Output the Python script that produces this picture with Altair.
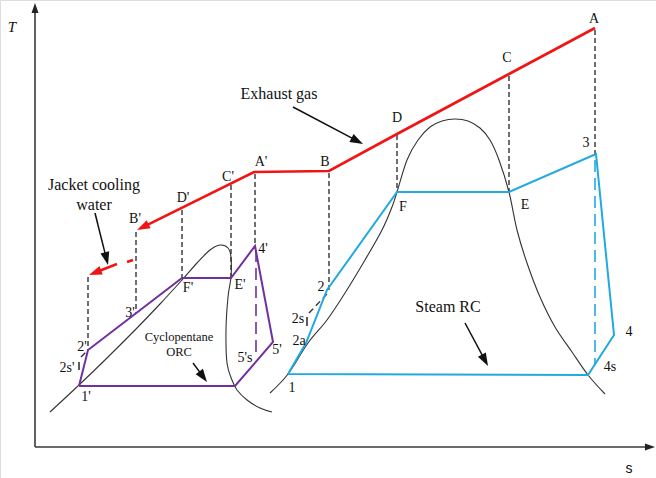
import altair as alt
import numpy as np
import pandas as pd

W, H = 656, 478
SERIF = "Liberation Serif"
RED, BLUE, PURPLE, INK = "#F01414", "#22A9E0", "#7030A0", "#333333"

# ---- exhaust gas cooling line: A -> C -> D -> B -> A' -> B'
gas_s = [595, 509, 397, 329, 254, 137]
gas_T = [450, 404, 344, 307, 306, 248]

# jacket cooling water continuation (short dash, then arrow)
jw_dash_s = [133, 127]
jw_dash_T = [218, 216]
jw_s = [117, 89]
jw_T = [214, 203]

# steam Rankine cycle: 1, 2a, 2, F, E, 3, 4, 4s, 1
rc_s = [288, 306, 327, 397, 509, 596, 614, 588, 288]
rc_T = [104, 135, 188, 286, 286, 324, 143, 103, 104]

# cyclopentane ORC: 1', 2', F', E', 4', 5', condenser inlet, 1'
orc_s = [79, 88, 182, 231, 255, 273, 235, 79]
orc_T = [92, 128, 200, 200, 232, 136, 92, 92]

# water saturation dome
wdome_s = [270, 288, 308, 327, 345, 365, 382, 392, 397, 407, 418, 430, 442, 455,
           468, 480, 490, 499, 509, 517, 527, 540, 555, 572, 588, 605]
wdome_T = [85, 104, 135, 158, 185, 218, 248, 271, 286, 318, 338, 351, 357, 359,
           357, 350, 338, 318, 286, 248, 215, 181, 151, 126, 103, 84]

# cyclopentane saturation dome
cdome_s = [50, 79, 107, 137, 160, 182, 197, 210, 220, 228, 231, 231, 228,
           226, 227, 232, 237, 247, 260, 272]
cdome_T = [66, 93, 120, 150, 174, 198, 215, 228, 233, 230, 221, 201, 181,
           148, 115, 98, 88, 78, 70, 66]

# vertical projection dashes: s, upper T, lower T
proj_s = [595, 509, 397, 329, 255, 231, 182, 136, 88]
proj_top = [448, 402, 343, 305, 304, 293, 268, 246, 201]
proj_bot = [324, 286, 286, 188, 232, 200, 200, 165, 128]

# isentropic expansion dashes
isen_s = [595, 256]
isen_top = [318, 228]
isen_bot = [113, 120]
isen_col = [BLUE, PURPLE]

# small pump-state marks (2s, 2s', and their dashes)
tick_s = [307, 79]
tick_top = [161, 116]
tick_bot = [152, 108]
pdash_s = [309, 81]
pdash_T = [165, 121]
pdash_s2 = [327, 86]
pdash_T2 = [184, 126]

# point labels
pt_text = ["A", "C", "D", "B", "A'", "C'", "D'", "B'", "3", "F", "E", "4", "4s",
           "1", "2", "2s", "2a", "3'", "F'", "E'", "4'", "5'", "5's", "1'", "2'", "2s'"]
pt_s = [594, 507, 397, 325, 261, 228, 183, 135, 586, 403, 525, 629, 610,
        292, 321, 298, 299, 130, 188, 240, 263, 277, 245, 86, 82, 67]
pt_T = [459, 420, 360, 316, 316, 301, 280, 259, 335, 271, 273, 146, 111,
        90, 191, 159, 137, 165, 190, 193, 229, 128, 120, 81, 131, 110]

# annotation texts
note_text = ["Exhaust gas", "Jacket cooling", "water", "Steam RC"]
note_s = [279, 94, 94, 448]
note_T = [384, 293, 273, 171]
orc_note = ["Cyclopentane", "ORC"]
orc_note_s = [179, 179]
orc_note_T = [141, 126]

# black annotation arrows: start -> tip
arr_s0 = [293, 95, 193, 465]
arr_T0 = [371, 265, 115, 155]
arr_s1 = [363, 108, 207, 488]
arr_T1 = [334, 213, 96, 112]

# axes with arrowheads (origin and tips)
ax_origin = (35, 31)
ax_tip_T = 475
ax_tip_s = 655

xs = alt.Scale(domain=[0, W], nice=False, zero=False)
ys = alt.Scale(domain=[0, H], nice=False, zero=False)
X = lambda f: alt.X(f, type="quantitative", scale=xs, axis=None)
Y = lambda f: alt.Y(f, type="quantitative", scale=ys, axis=None)

HEAD = "M0,0L0.9,2.6L-0.9,2.6Z"


def path(s, T, color, width, interp="linear"):
    df = pd.DataFrame({"s": s, "T": T, "i": range(len(s))})
    return alt.Chart(df).mark_line(color=color, strokeWidth=width, interpolate=interp,
                                   strokeJoin="miter").encode(
        x=X("s"), y=Y("T"), order=alt.Order("i:Q"))


def segs(s, t, s2, t2, color, width, dash=None):
    df = pd.DataFrame({"s": s, "T": t, "s2": s2, "T2": t2})
    kw = dict(color=color, strokeWidth=width)
    if dash:
        kw["strokeDash"] = dash
    return alt.Chart(df).mark_rule(**kw).encode(
        x=X("s"), y=Y("T"), x2="s2:Q", y2="T2:Q")


def heads(s0, t0, s1, t1, color, size):
    s0, t0, s1, t1 = map(np.asarray, (s0, t0, s1, t1))
    ang = np.degrees(np.arctan2(s1 - s0, t1 - t0)) % 360
    df = pd.DataFrame({"s": s1, "T": t1, "a": ang})
    return alt.Chart(df).mark_point(shape=HEAD, filled=True, color=color, opacity=1,
                                    size=size, strokeWidth=0).encode(
        x=X("s"), y=Y("T"), angle=alt.Angle("a:Q", scale=None))


def shortened(s0, t0, s1, t1, d):
    s0, t0, s1, t1 = map(np.asarray, (s0, t0, s1, t1))
    L = np.hypot(s1 - s0, t1 - t0)
    return s1 - (s1 - s0) / L * d, t1 - (t1 - t0) / L * d


def texts(lbl, s, T, size, font=SERIF, style="normal"):
    df = pd.DataFrame({"t": lbl, "s": s, "T": T})
    return alt.Chart(df).mark_text(font=font, fontSize=size, fontStyle=style,
                                   color="#111111", align="center",
                                   baseline="middle").encode(
        x=X("s"), y=Y("T"), text="t:N")


layers = []

# axes
o_s, o_T = ax_origin
layers.append(segs([o_s, o_s], [o_T, o_T], [o_s, ax_tip_s - 7], [ax_tip_T - 7, o_T],
                   "#3a3a3a", 1.6))
layers.append(heads([o_s, o_s], [o_T, o_T], [o_s, ax_tip_s], [ax_tip_T, o_T],
                    "#222222", 60))

# saturation domes
layers.append(path(wdome_s, wdome_T, INK, 1.1, "cardinal"))
layers.append(path(cdome_s, cdome_T, INK, 1.1, "cardinal"))

# projection dashes
layers.append(segs(proj_s, proj_top, proj_s, proj_bot, INK, 1.4, [5, 3]))
layers.append(segs(pdash_s, pdash_T, pdash_s2, pdash_T2, INK, 1.4, [6, 4]))
layers.append(segs(tick_s, tick_top, tick_s, tick_bot, INK, 1.6))

# isentropic expansion
for s_, a_, b_, c_ in zip(isen_s, isen_top, isen_bot, isen_col):
    layers.append(segs([s_], [a_], [s_], [b_], c_, 1.6, [12, 6]))

# cycles
layers.append(path(rc_s, rc_T, BLUE, 2.0))
layers.append(path(orc_s, orc_T, PURPLE, 2.0))

# exhaust gas
ge_s, ge_T = shortened(gas_s[-2], gas_T[-2], gas_s[-1], gas_T[-1], 6)
layers.append(path(gas_s[:-1] + [float(ge_s)], gas_T[:-1] + [float(ge_T)], RED, 2.6))
layers.append(heads([gas_s[-2]], [gas_T[-2]], [gas_s[-1]], [gas_T[-1]], RED, 100))
layers.append(segs([jw_dash_s[0]], [jw_dash_T[0]], [jw_dash_s[1]], [jw_dash_T[1]], RED, 2.6))
je_s, je_T = shortened(jw_s[0], jw_T[0], jw_s[1], jw_T[1], 6)
layers.append(segs([jw_s[0]], [jw_T[0]], [float(je_s)], [float(je_T)], RED, 2.6))
layers.append(heads([jw_s[0]], [jw_T[0]], [jw_s[1]], [jw_T[1]], RED, 100))

# black annotation arrows
ae_s, ae_T = shortened(arr_s0, arr_T0, arr_s1, arr_T1, 6)
layers.append(segs(arr_s0, arr_T0, list(ae_s), list(ae_T), "#111111", 1.5))
layers.append(heads(arr_s0, arr_T0, arr_s1, arr_T1, "#111111", 100))

# labels
layers.append(texts(pt_text, pt_s, pt_T, 14))
layers.append(texts(note_text, note_s, note_T, 16))
layers.append(texts(orc_note, orc_note_s, orc_note_T, 12.5))
layers.append(texts(["T"], [12], [451], 15, style="italic"))
layers.append(texts(["s"], [629], [9], 14, font="Liberation Sans"))

chart = alt.layer(*layers).properties(
    width=W, height=H, autosize=alt.AutoSizeParams(type="none"), padding=0
).configure_view(stroke=None).configure(background="white")

chart.save("out.html", embed_options={"renderer": "svg", "actions": False})
